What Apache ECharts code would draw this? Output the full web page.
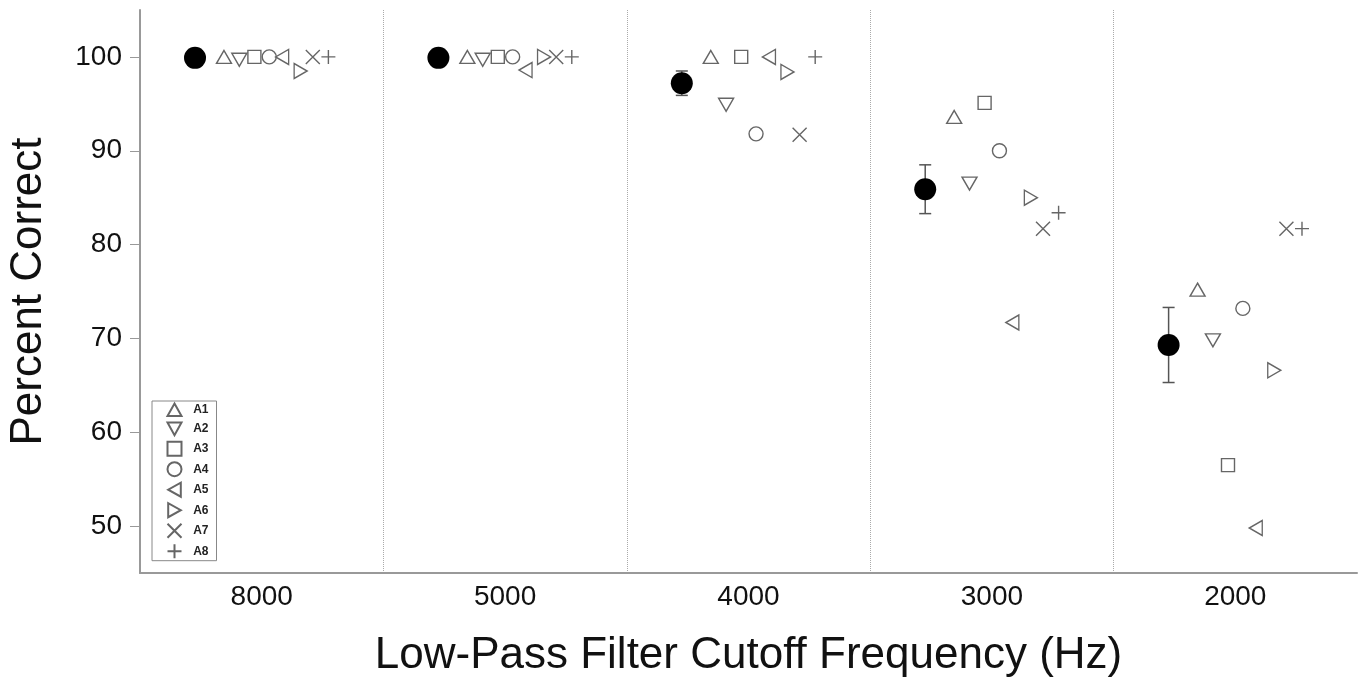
<!DOCTYPE html>
<html>
<head>
<meta charset="utf-8">
<script src="https://cdn.jsdelivr.net/npm/echarts@6/dist/echarts.min.js"></script>
<style>
  html, body { margin: 0; padding: 0; background: #fff; }
  #chart { width: 1363px; height: 683px; }
</style>
</head>
<body>
<div id="chart"></div>
<script>
// cutoff frequency groups (Hz), left to right
const groups = ["8000", "5000", "4000", "3000", "2000"];
const yTicks = [50, 60, 70, 80, 90, 100];

// group mean and its error bar
const meanVals = [99.9, 99.9, 97.2, 85.9, 69.3];
const meanErr = [0, 0, 1.3, 2.6, 4.0];

// individual listeners
const subjects = ["A1", "A2", "A3", "A4", "A5", "A6", "A7", "A8"];
const a1 = [100, 100, 100, 93.6, 75.2];
const a2 = [99.7, 99.7, 94.9, 86.5, 69.8];
const a3 = [100, 100, 100, 95.1, 56.5];
const a4 = [100, 100, 91.8, 90.0, 73.2];
const a5 = [100, 98.6, 100, 71.7, 49.8];
const a6 = [98.5, 100, 98.4, 85.0, 66.6];
const a7 = [100, 100, 91.7, 81.7, 81.7];
const a8 = [100, 100, 100, 83.4, 81.7];
const subjectVals = [a1, a2, a3, a4, a5, a6, a7, a8];

// horizontal placement inside each group (fraction of group width)
const meanOffset = 0.226;
const subjectOffset = [0.345, 0.408, 0.47, 0.531, 0.584, 0.66, 0.71, 0.774];

// open marker shapes, drawn as paths so the legend shows them the same way
const symbols = [
  { symbol: "path://M5,0L10,9L0,9Z", size: [15, 13] },
  { symbol: "path://M0,0L10,0L5,9Z", size: [15, 13] },
  { symbol: "rect", size: [13, 13] },
  { symbol: "circle", size: 14 },
  { symbol: "path://M9,0L9,10L0,5Z", size: [13, 15] },
  { symbol: "path://M0,0L0,10L9,5Z", size: [13, 15] },
  { symbol: "path://M0,0L10,10M10,0L0,10", size: 14 },
  { symbol: "path://M5,0L5,10M0,5L10,5", size: 14 },
];

const font = "'Liberation Sans', Arial, sans-serif";
const grey = "#666";

const subjectSeries = subjects.map((name, s) => ({
  name,
  type: "scatter",
  xAxisIndex: 1,
  symbol: symbols[s].symbol,
  symbolSize: symbols[s].size,
  itemStyle: { color: "none", borderColor: grey, borderWidth: 1.4, opacity: 1 },
  data: subjectVals[s].map((v, g) => [g + subjectOffset[s], v]),
  z: 3,
}));

const chart = echarts.init(document.getElementById("chart"));
chart.setOption({
  animation: false,
  grid: { left: 140, right: 6, top: 10, bottom: 110, outerBoundsMode: "none" },
  legend: {
    data: subjects,
    orient: "vertical",
    left: 152,
    top: 401,
    padding: [0, 8, 0, 13],
    itemWidth: 14,
    itemHeight: 14,
    itemGap: 1.5,
    formatter: (name) => "  " + name,
    backgroundColor: "#fff",
    borderColor: "#888",
    borderWidth: 1,
    textStyle: { fontFamily: font, fontSize: 12, fontWeight: "bold", color: "#222" },
    z: 10,
  },
  xAxis: [
    {
      type: "category",
      data: groups,
      boundaryGap: true,
      name: "Low-Pass Filter Cutoff Frequency (Hz)",
      nameLocation: "middle",
      nameGap: 61,
      nameTextStyle: { fontFamily: font, fontSize: 44, color: "#111" },
      axisLine: { lineStyle: { color: "#999", width: 2 } },
      axisTick: { inside: true, length: 6, lineStyle: { color: "#999" } },
      axisLabel: { fontFamily: font, fontSize: 28, color: "#111", margin: 10 },
      splitLine: {
        show: true,
        showMinLine: false,
        showMaxLine: false,
        lineStyle: { color: "#aaa", type: "dotted", width: 1 },
      },
    },
    { type: "value", min: 0, max: 5, show: false },
  ],
  yAxis: {
    type: "value",
    min: 45,
    max: 105,
    name: "Percent Correct",
    nameLocation: "middle",
    nameGap: 89,
    nameTextStyle: { fontFamily: font, fontSize: 44, color: "#111" },
    axisLine: { show: true, lineStyle: { color: "#999", width: 2 } },
    axisTick: { show: true, length: 10, customValues: yTicks, lineStyle: { color: "#999" } },
    axisLabel: { fontFamily: font, fontSize: 28, color: "#111", margin: 18, customValues: yTicks },
    splitLine: { show: false },
  },
  series: [
    {
      type: "custom",
      xAxisIndex: 1,
      data: meanVals.map((v, g) => [g + meanOffset, v, meanErr[g]]),
      renderItem: (params, api) => {
        const x = api.value(0);
        const m = api.value(1);
        const e = api.value(2);
        const top = api.coord([x, m + e]);
        const bot = api.coord([x, m - e]);
        const style = { stroke: "#555", lineWidth: 1.5 };
        return {
          type: "group",
          children: [
            { type: "line", shape: { x1: top[0], y1: top[1], x2: bot[0], y2: bot[1] }, style },
            { type: "line", shape: { x1: top[0] - 6, y1: top[1], x2: top[0] + 6, y2: top[1] }, style },
            { type: "line", shape: { x1: bot[0] - 6, y1: bot[1], x2: bot[0] + 6, y2: bot[1] }, style },
          ],
        };
      },
      z: 2,
    },
    {
      name: "Mean",
      type: "scatter",
      xAxisIndex: 1,
      symbol: "circle",
      symbolSize: 22,
      itemStyle: { color: "#000", opacity: 1 },
      data: meanVals.map((v, g) => [g + meanOffset, v]),
      z: 4,
    },
    ...subjectSeries,
  ],
});

window.addEventListener("resize", () => {
  chart.resize();
});
</script>
</body>
</html>
